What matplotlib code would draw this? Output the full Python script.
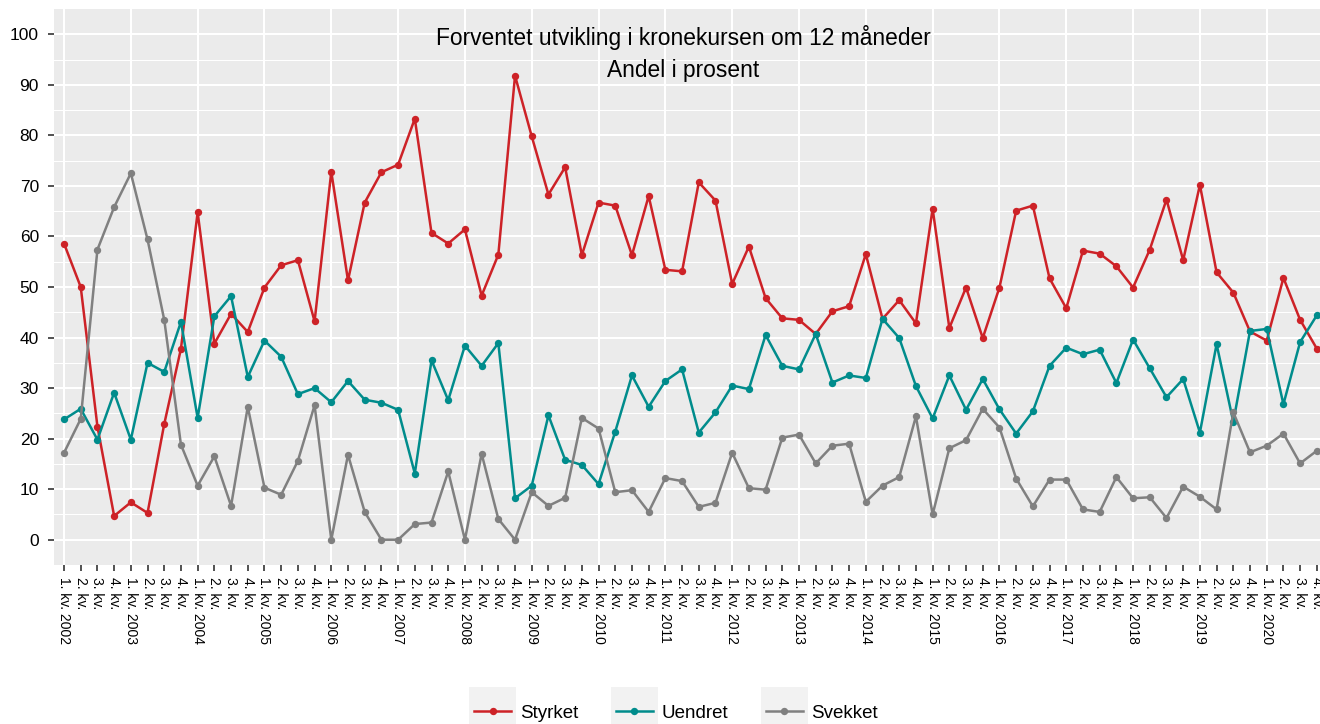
import numpy as np
import matplotlib
matplotlib.use("Agg")
import matplotlib.pyplot as plt
from matplotlib.legend_handler import HandlerLine2D
from matplotlib.patches import Rectangle
from matplotlib.lines import Line2D

plt.rcParams['font.family'] = ['Liberation Sans', 'DejaVu Sans']

years = list(range(2002, 2021))
quarters = [1, 2, 3, 4]
tick_labels = [f"{q}. kv. {y}" if q == 1 else f"{q}. kv." for y in years for q in quarters]

styrket = [58.6, 50.0, 22.4, 4.7, 7.4, 5.3, 22.9, 37.8, 64.8, 38.8, 44.7, 41.1,
           49.9, 54.3, 55.3, 43.2, 72.8, 51.3, 66.7, 72.7, 74.2, 83.3, 60.7, 58.6,
           61.4, 48.3, 56.4, 91.8, 79.8, 68.3, 73.7, 56.3, 66.7, 66.1, 56.3, 68.0,
           53.4, 53.1, 70.7, 67.1, 50.6, 58.0, 47.8, 43.8, 43.5, 40.7, 45.2, 46.2,
           56.5, 43.7, 47.4, 42.8, 65.5, 41.9, 49.9, 39.9, 49.9, 65.1, 66.1, 51.7,
           45.8, 57.2, 56.6, 54.1, 49.9, 57.4, 67.3, 55.3, 70.2, 52.9, 48.9, 41.2,
           39.4, 51.8, 43.5, 37.8]
uendret = [23.8, 25.9, 19.8, 29.1, 19.8, 35.0, 33.2, 43.1, 24.1, 44.2, 48.2, 32.2,
           39.4, 36.2, 28.8, 30.0, 27.2, 31.4, 27.7, 27.1, 25.7, 13.1, 35.5, 27.6,
           38.4, 34.4, 38.9, 8.2, 10.7, 24.6, 15.8, 14.8, 11.0, 21.4, 32.5, 26.3,
           31.4, 33.7, 21.2, 25.2, 30.5, 29.8, 40.5, 34.4, 33.7, 40.7, 31.1, 32.5,
           32.0, 43.7, 39.9, 30.4, 24.0, 32.5, 25.7, 31.8, 25.8, 21.0, 25.4, 34.4,
           38.0, 36.7, 37.6, 31.0, 39.6, 33.9, 28.2, 31.8, 21.2, 38.7, 23.3, 41.3,
           41.7, 26.8, 39.1, 44.4]
svekket = [17.2, 23.9, 57.4, 65.8, 72.5, 59.4, 43.5, 18.8, 10.7, 16.5, 6.7, 26.3,
           10.3, 8.9, 15.6, 26.6, 0.0, 16.8, 5.5, 0.0, 0.0, 3.1, 3.4, 13.5,
           0.0, 17.0, 4.1, 0.0, 9.4, 6.7, 8.3, 24.1, 22.0, 9.4, 9.8, 5.5,
           12.2, 11.6, 6.5, 7.3, 17.2, 10.2, 9.9, 20.2, 20.8, 15.1, 18.6, 19.0,
           7.5, 10.7, 12.4, 24.4, 5.0, 18.1, 19.7, 25.9, 22.2, 12.1, 6.6, 11.9,
           11.9, 6.0, 5.5, 12.4, 8.2, 8.4, 4.3, 10.5, 8.5, 6.0, 25.2, 17.3,
           18.6, 21.0, 15.1, 17.6]

series_names = ["Styrket", "Uendret", "Svekket"]
series_values = [styrket, uendret, svekket]
colors = ["#CD2227", "#008C8C", "#808080"]

title_lines = ["Forventet utvikling i kronekursen om 12 måneder", "Andel i prosent"]

W, H = 1320, 724
fig = plt.figure(figsize=(W / 100, H / 100), dpi=100)
ax = fig.add_axes([54 / W, 1 - 565 / H, (W - 54) / W, (565 - 9) / H])
ax.set_facecolor("#EBEBEB")
for s in ax.spines.values():
    s.set_visible(False)

x = np.arange(len(tick_labels))
handles = []
for name, vals, c in zip(series_names, series_values, colors):
    ln, = ax.plot(x, vals, color=c, lw=1.8, marker='o', markersize=5.3,
                  markeredgewidth=0, label=name, zorder=3, clip_on=False)
    handles.append(ln)

ax.set_xlim(-0.6, 75.19)
ax.set_ylim(-5, 105)

ax.set_yticks(np.arange(0, 101, 10))
ax.set_yticks(np.arange(5, 100, 10), minor=True)
ax.set_xticks(x)
ax.set_xticklabels(tick_labels, rotation=-90, fontsize=10, va='top', ha='center',
                   rotation_mode='default')

for yv in np.arange(0, 101, 10):
    ax.axhline(yv, color='white', lw=1.5, zorder=1)
for yv in np.arange(5, 100, 10):
    ax.axhline(yv, color='white', lw=0.75, zorder=1)
for xv in x[::4]:
    ax.axvline(xv, color='white', lw=1.5, zorder=1)

ax.tick_params(axis='both', which='major', length=4.3, width=1.2, color='#333333',
               labelcolor='black')
ax.tick_params(axis='y', which='major', labelsize=12.5, pad=6.5)
ax.tick_params(axis='y', which='minor', length=0)
ax.tick_params(axis='x', which='major', pad=4)

fig.text(683 / W, 1 - 37 / H, title_lines[0], ha='center', va='center', fontsize=16.4)
fig.text(683 / W, 1 - 71 / H, title_lines[1], ha='center', va='center', fontsize=16.4)


class KeyHandler(HandlerLine2D):
    def create_artists(self, legend, orig_handle, xdescent, ydescent, width, height,
                       fontsize, trans):
        padx = 0.25 * fontsize
        boxh = 2.6 * fontsize
        rect = Rectangle((-xdescent - padx, -ydescent + height / 2 - boxh / 2),
                         width + 2 * padx, boxh, facecolor='#F2F2F2',
                         edgecolor='none', transform=trans)
        arts = super().create_artists(legend, orig_handle, xdescent, ydescent,
                                      width, height, fontsize, trans)
        return [rect] + list(arts)


leg = fig.legend(handles=handles, labels=series_names, loc='center',
                 bbox_to_anchor=(676 / W, 1 - 713 / H), ncol=3, frameon=False,
                 fontsize=13.5, handlelength=2.0, handletextpad=0.45,
                 columnspacing=2.0,
                 handler_map={Line2D: KeyHandler()})

fig.savefig("out.png", dpi=100)
